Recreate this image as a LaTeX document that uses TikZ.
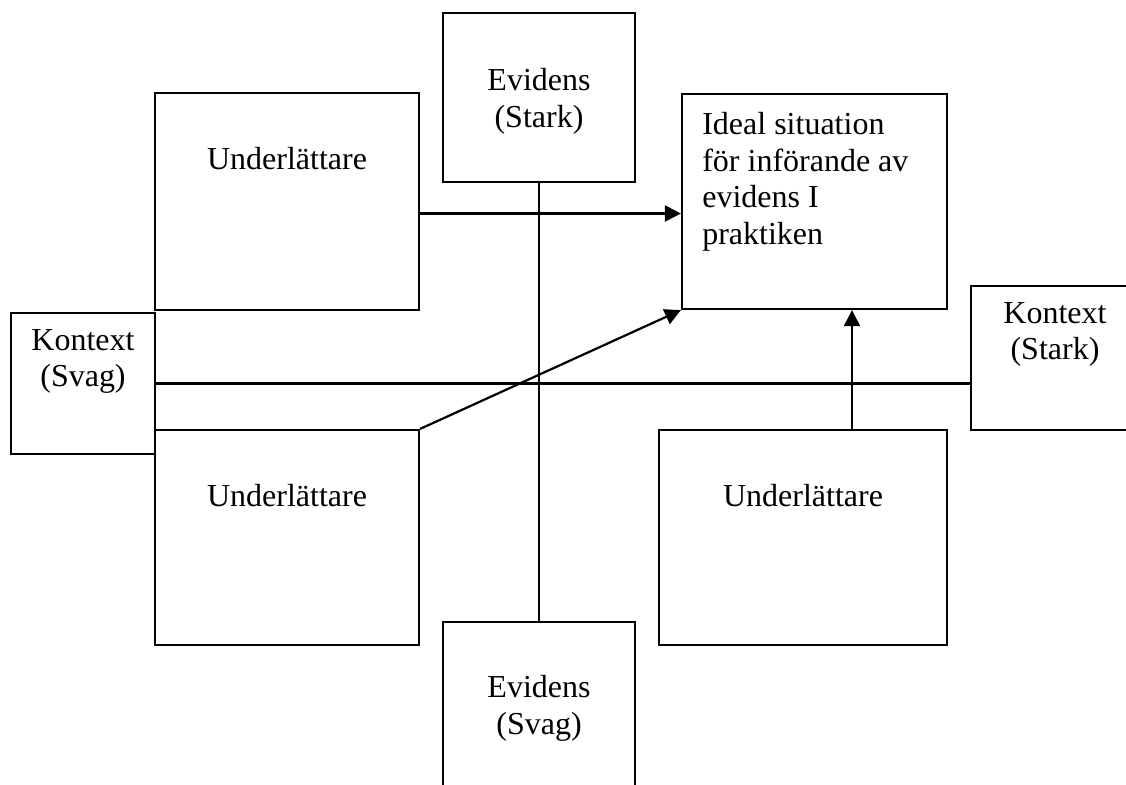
\documentclass[tikz,border=0pt]{standalone}
\usepackage{fontspec}
\setmainfont{Liberation Serif}
\usetikzlibrary{arrows.meta, positioning}

\begin{document}
\begin{tikzpicture}[x=0.5pt, y=-0.5pt, node distance=10pt,
		font=\fontsize{16pt}{18.3pt}\selectfont,
		box/.style={draw, line width=1.1pt, rectangle, inner sep=0pt},
		lbl/.style={inner sep=0pt, align=center},
		arr/.style={-{Triangle[length=8pt, width=8pt]}, line width=1.1pt}]

		\useasboundingbox (0,0) rectangle (1126,784);
		\clip (0,0) rectangle (1126,784);

		% Boxes
		\node[box, minimum width=96pt, minimum height=84.5pt] (evStark) at (539,97.5) {};
		\node[box, minimum width=132pt, minimum height=108.5pt] (facTL) at (287,201.5) {};
		\node[box, minimum width=132.5pt, minimum height=107.5pt] (ideal) at (814.5,201.5) {};
		\node[box, minimum width=72pt, minimum height=70.5pt] (kxSvag) at (83,383.5) {};
		\node[box, minimum width=84pt, minimum height=72pt] (kxStark) at (1055,358) {};
		\node[box, minimum width=132pt, minimum height=107.5pt] (facBL) at (287,537.5) {};
		\node[box, minimum width=144pt, minimum height=107.5pt] (facBR) at (803,537.5) {};
		\node[box, minimum width=96pt, minimum height=84.5pt] (evSvag) at (539,706.5) {};

		% Texts
		\node[lbl, below=28pt of evStark.north] {Evidens\\(Stark)};
		\node[lbl, below=27.5pt of facTL.north] {Underlättare};
		\node[lbl, align=left, below right=9.5pt and 10.5pt of ideal.north west]
			{Ideal situation\\för införande av\\evidens I\\praktiken};
		\node[lbl, below=8.5pt of kxSvag.north] {Kontext\\(Svag)};
		\node[lbl, below=8.5pt of kxStark.north] {Kontext\\(Stark)};
		\node[lbl, below=27.5pt of facBL.north] {Underlättare};
		\node[lbl, below=27.5pt of facBR.north] {Underlättare};
		\node[lbl, below=27.2pt of evSvag.north] {Evidens\\(Svag)};

		% Lines and arrows
		\draw[line width=1.1pt] (evStark.south) -- (evSvag.north);
		\draw[line width=1.1pt] (kxSvag.east) -- (kxSvag.east -| kxStark.west);
		\draw[arr] ([yshift=-6pt]facTL.east) -- ([yshift=-6pt]facTL.east -| ideal.west);
		\draw[arr] (facBL.north east) -- (ideal.south west);
		\coordinate (up) at ([xshift=24.5pt]facBR.north);
		\draw[arr] (up) -- (up |- ideal.south);

	\end{tikzpicture}
\end{document}
